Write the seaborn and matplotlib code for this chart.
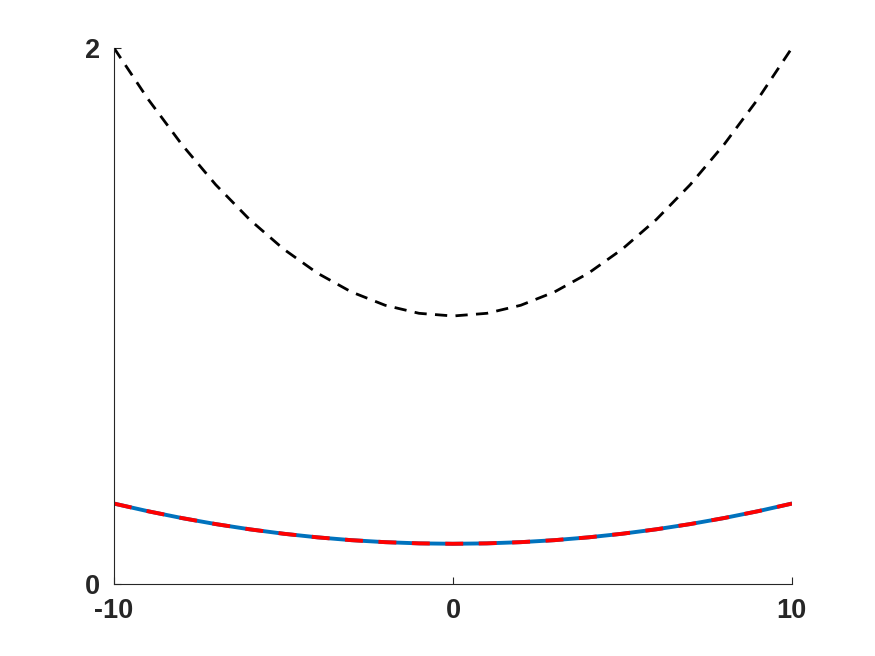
import matplotlib
matplotlib.use("Agg")
import matplotlib.pyplot as plt
import seaborn as sns
import numpy as np
import pandas as pd

x_vals = [-10, -9, -8, -7, -6, -5, -4, -3, -2, -1, 0, 1, 2, 3, 4, 5, 6, 7, 8, 9, 10]
upper_vals = [2.0, 1.81, 1.64, 1.49, 1.36, 1.25, 1.16, 1.09, 1.04, 1.01, 1.0,
              1.01, 1.04, 1.09, 1.16, 1.25, 1.36, 1.49, 1.64, 1.81, 2.0]
lower_vals = [0.3, 0.2715, 0.246, 0.2235, 0.204, 0.1875, 0.174, 0.1635, 0.156, 0.1515, 0.15,
              0.1515, 0.156, 0.1635, 0.174, 0.1875, 0.204, 0.2235, 0.246, 0.2715, 0.3]
xticks = [-10, 0, 10]
yticks = [0, 2]

sns.set_style("ticks")
plt.rcParams['font.family'] = ['Liberation Sans', 'DejaVu Sans']

df = pd.DataFrame({"x": x_vals, "upper": upper_vals, "lower": lower_vals})

fig = plt.figure(figsize=(8.75, 6.56), dpi=100)
ax = fig.add_axes([0.1303, 0.1098, 0.905 - 0.1303, 0.9268 - 0.1098])

sns.lineplot(data=df, x="x", y="lower", ax=ax, color="#0072BD", linewidth=2.8, sort=False)
sns.lineplot(data=df, x="x", y="lower", ax=ax, color="#FF0000", linewidth=2.8, sort=False)
red = ax.lines[-1]
red.set_linestyle((0, (4.6, 4.0)))
red.set_dash_capstyle("butt")
sns.lineplot(data=df, x="x", y="upper", ax=ax, color="black", linewidth=2.0, sort=False)
ax.lines[-1].set_linestyle((0, (4.4, 3.0)))

ax.set_xlim(-10, 10)
ax.set_ylim(0, 2)
ax.set_xticks(xticks)
ax.set_yticks(yticks)
ax.set_xticklabels([str(t) for t in xticks])
ax.set_yticklabels([str(t) for t in yticks])
ax.set_xlabel("")
ax.set_ylabel("")
ax.tick_params(direction="in", length=5, width=0.8, labelsize=19.5, colors="#262626")
for lab in ax.get_xticklabels() + ax.get_yticklabels():
    lab.set_fontweight("bold")
ax.tick_params(axis="x", pad=10)
ax.tick_params(axis="y", pad=10)
sns.despine(ax=ax)
for s in ["left", "bottom"]:
    ax.spines[s].set_linewidth(0.8)
    ax.spines[s].set_color("#262626")

fig.savefig("out.png", dpi=100)
